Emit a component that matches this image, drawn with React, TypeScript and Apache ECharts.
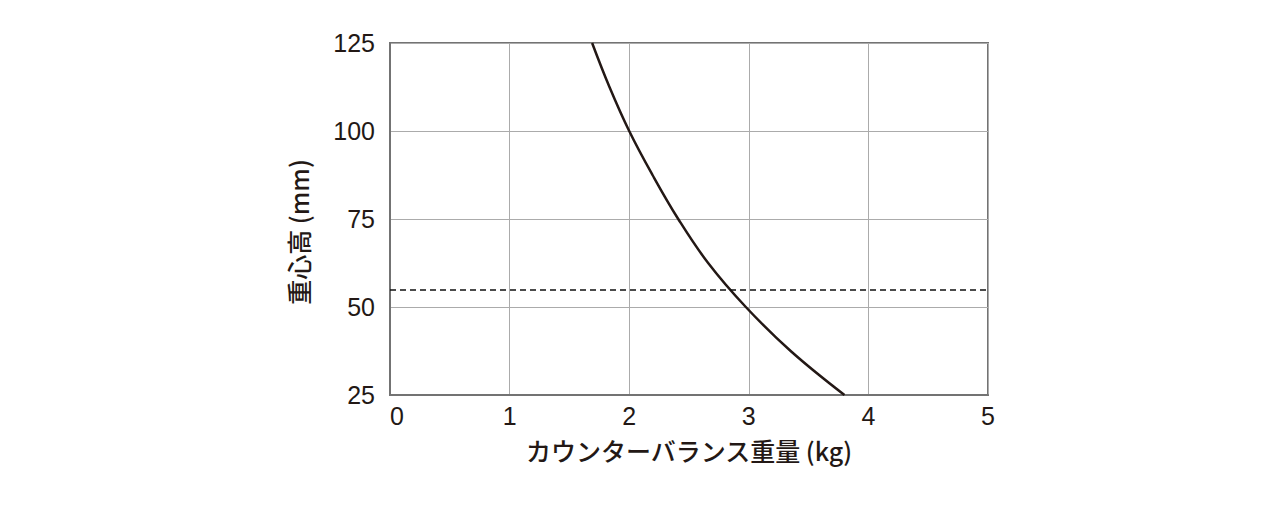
import { useEffect, useRef } from "react";
import * as echarts from "echarts";

// カウンターバランス重量 (kg) vs 重心高 (mm)
const weights = [1.69, 1.835, 2.0, 2.195, 2.41, 2.66, 2.975, 3.35, 3.8];
const heights = [125, 112.5, 100, 87.5, 75, 62.5, 50, 37.5, 25];
const referenceHeight = 55;

const xName = "カウンターバランス重量 (kg)";
const yName = "重心高 (mm)";

const textColor = "#231815";
const fontFamily = "'Liberation Sans', Arial, 'Noto Sans CJK JP', sans-serif";
const jpFont = "'Noto Sans CJK JP', 'Liberation Sans', sans-serif";

export default function App() {
  const ref = useRef<HTMLDivElement | null>(null);

  useEffect(() => {
    document.body.style.margin = "0";
    if (!ref.current) {
      return;
    }
    const instance = echarts.init(ref.current, undefined, { renderer: "svg" });
    instance.setOption({
      animation: false,
      backgroundColor: "#ffffff",
      grid: {
        left: 390,
        right: 292,
        top: 43,
        bottom: 118,
        show: true,
        borderColor: "#737373",
        borderWidth: 2
      },
      xAxis: {
        type: "value",
        min: 0,
        max: 5,
        interval: 1,
        name: xName,
        nameLocation: "middle",
        nameGap: 42,
        nameTextStyle: { color: textColor, fontSize: 25, fontFamily: jpFont, fontWeight: 500 },
        axisLine: { show: true, lineStyle: { color: "#737373", width: 2 } },
        axisTick: { show: false },
        axisLabel: {
          color: textColor,
          fontSize: 25,
          fontFamily,
          margin: 8,
          alignMinLabel: "left"
        },
        splitLine: { show: true, lineStyle: { color: "#ababab", width: 1 } }
      },
      yAxis: {
        type: "value",
        min: 25,
        max: 125,
        interval: 25,
        name: yName,
        nameLocation: "middle",
        nameGap: 80,
        nameTextStyle: {
          color: textColor,
          fontSize: 25,
          fontFamily: jpFont,
          fontWeight: 500,
          padding: [0, 26, 0, 0]
        },
        axisLine: { show: true, lineStyle: { color: "#737373", width: 2 } },
        axisTick: { show: false },
        axisLabel: { color: textColor, fontSize: 25, fontFamily, margin: 15 },
        splitLine: { show: true, lineStyle: { color: "#ababab", width: 1 } }
      },
      series: [
        {
          type: "line",
          data: weights.map((w, i) => [w, heights[i]]),
          smooth: 0.4,
          showSymbol: false,
          lineStyle: { color: textColor, width: 2.5 },
          markLine: {
            silent: true,
            symbol: "none",
            label: { show: false },
            lineStyle: { color: "#111111", width: 1.5, type: [6, 4] },
            data: [{ yAxis: referenceHeight }]
          }
        }
      ]
    });
    return () => {
      instance.dispose();
    };
  }, []);

  return <div ref={ref} style={{ width: 1280, height: 513 }} />;
}
